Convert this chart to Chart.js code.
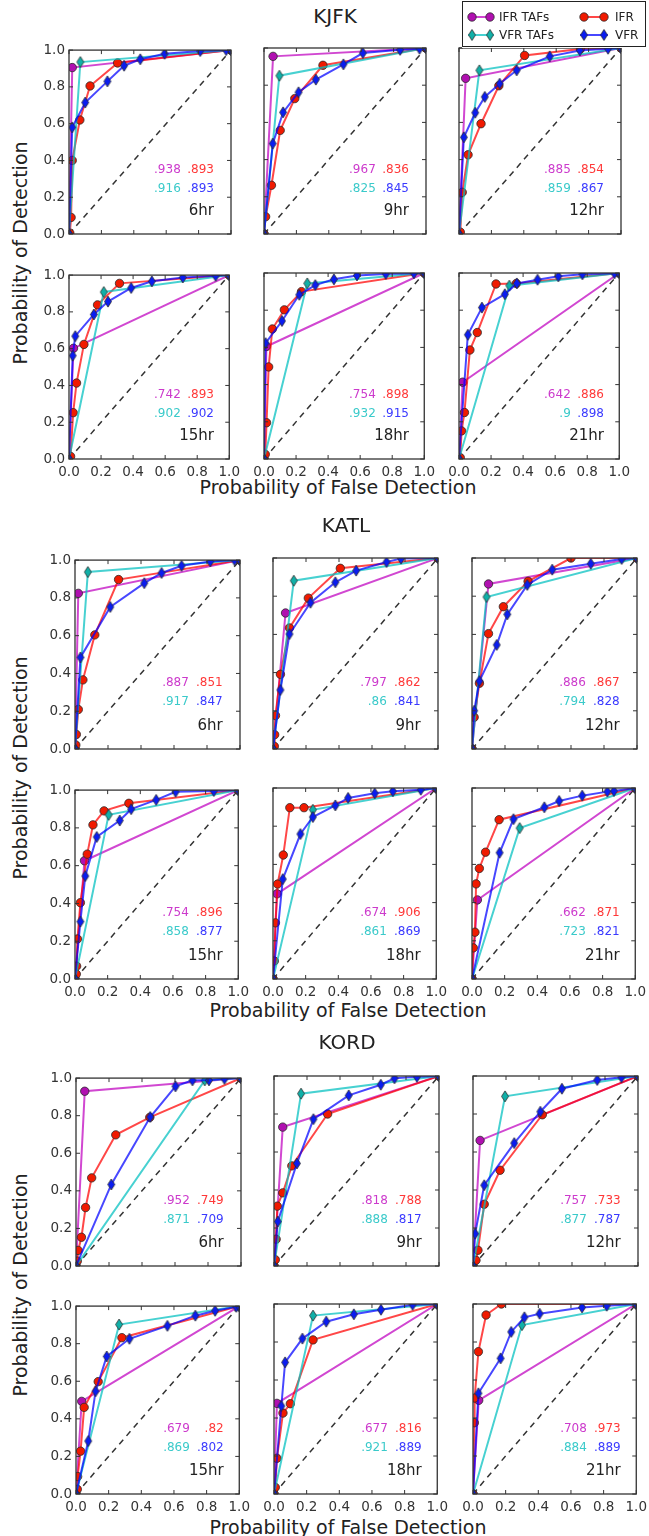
<!DOCTYPE html>
<html>
<head>
<meta charset="utf-8">
<script src="https://cdn.jsdelivr.net/npm/chart.js@4.4.1/dist/chart.umd.min.js"></script>
<style>
  body { margin: 0; background: #fff; }
  #page { position: relative; width: 649px; height: 1536px; overflow: hidden; font-family: "DejaVu Sans", sans-serif; color: #222; }
  #page canvas { position: absolute; }
  .t { position: absolute; white-space: nowrap; line-height: 1; }
  .title { font-size: 20px; transform: translate(-50%, -50%); }
  .xlab { font-size: 19px; transform: translate(-50%, -50%); }
  .ylab { font-size: 19px; transform: translate(-50%, -50%) rotate(-90deg); }
  .auc { font-size: 12px; transform: translate(-100%, -50%); }
  .hr { font-size: 15px; transform: translate(-100%, -50%); color: #222; }
  .leg { font-size: 12px; transform: translateY(-50%); color: #222; }
</style>
</head>
<body>
<div id="page"></div>
<script>
const STATIONS = ['KJFK', 'KATL', 'KORD'];
const HOURS = ['6hr', '9hr', '12hr', '15hr', '18hr', '21hr'];
const TICKS = [0, 0.2, 0.4, 0.6, 0.8, 1.0];
const SERIES = ['IFR TAFs', 'VFR TAFs', 'IFR', 'VFR'];

// ---- KJFK ----
const KJFK_IFR_TAF = [[0.02, 0.905], [0.056, 0.955], [0.041, 0.837], [0.028, 0.602], [0.015, 0.605], [0.023, 0.413]];
const KJFK_VFR_TAF = [[0.07, 0.935], [0.095, 0.851], [0.126, 0.88], [0.217, 0.908], [0.27, 0.944], [0.314, 0.932]];
const KJFK_IFR = [
  [[0, 0], [0.005, 0.005], [0.013, 0.09], [0.02, 0.40], [0.067, 0.62], [0.13, 0.805], [0.30, 0.93], [1, 1]],
  [[0, 0], [0.01, 0.093], [0.046, 0.262], [0.10, 0.557], [0.19, 0.728], [0.364, 0.907], [1, 1]],
  [[0, 0], [0.008, 0.01], [0.02, 0.224], [0.056, 0.426], [0.136, 0.593], [0.246, 0.797], [0.405, 0.96], [0.75, 0.995], [1, 1]],
  [[0, 0], [0.01, 0.014], [0.026, 0.252], [0.047, 0.413], [0.093, 0.623], [0.178, 0.838], [0.315, 0.955], [1, 1]],
  [[0, 0], [0.008, 0.025], [0.016, 0.195], [0.029, 0.495], [0.052, 0.699], [0.127, 0.802], [0.234, 0.90], [1, 1]],
  [[0, 0], [0.008, 0.007], [0.016, 0.151], [0.034, 0.25], [0.068, 0.586], [0.114, 0.68], [0.231, 0.941], [0.358, 0.944], [1, 1]]
];
const KJFK_VFR = [
  [[0, 0], [0.02, 0.58], [0.10, 0.715], [0.237, 0.83], [0.34, 0.915], [0.44, 0.95], [0.59, 0.98], [0.81, 0.995], [0.97, 1], [1, 1]],
  [[0, 0], [0.054, 0.486], [0.118, 0.654], [0.213, 0.762], [0.32, 0.83], [0.49, 0.912], [0.61, 0.973], [0.84, 0.99], [0.96, 0.996], [1, 1]],
  [[0, 0], [0.03, 0.52], [0.10, 0.652], [0.159, 0.737], [0.251, 0.808], [0.356, 0.88], [0.56, 0.955], [0.746, 0.987], [0.92, 0.996], [1, 1]],
  [[0, 0], [0.023, 0.562], [0.039, 0.668], [0.155, 0.786], [0.243, 0.856], [0.388, 0.93], [0.517, 0.966], [0.71, 0.987], [0.915, 0.996], [1, 1]],
  [[0, 0], [0.01, 0.623], [0.112, 0.742], [0.22, 0.883], [0.32, 0.935], [0.436, 0.966], [0.58, 0.987], [0.76, 0.995], [0.935, 0.998], [1, 1]],
  [[0, 0], [0.055, 0.668], [0.143, 0.814], [0.286, 0.886], [0.361, 0.944], [0.49, 0.964], [0.62, 0.982], [0.77, 0.993], [0.97, 0.998], [1, 1]]
];
const KJFK_AUC_IFR_TAF = [0.938, 0.967, 0.885, 0.742, 0.754, 0.642];
const KJFK_AUC_IFR = [0.893, 0.836, 0.854, 0.893, 0.898, 0.886];
const KJFK_AUC_VFR_TAF = [0.916, 0.825, 0.859, 0.902, 0.932, 0.9];
const KJFK_AUC_VFR = [0.893, 0.845, 0.867, 0.902, 0.915, 0.898];

// ---- KATL ----
const KATL_IFR_TAF = [[0.02, 0.824], [0.076, 0.712], [0.10, 0.864], [0.058, 0.626], [0.025, 0.446], [0.033, 0.414]];
const KATL_VFR_TAF = [[0.078, 0.937], [0.126, 0.881], [0.088, 0.796], [0.206, 0.869], [0.244, 0.886], [0.292, 0.79]];
const KATL_IFR = [
  [[0, 0], [0.005, 0.021], [0.008, 0.077], [0.02, 0.209], [0.048, 0.366], [0.12, 0.604], [0.264, 0.897], [1, 1]],
  [[0, 0], [0.008, 0.014], [0.01, 0.075], [0.015, 0.175], [0.045, 0.391], [0.10, 0.634], [0.214, 0.79], [0.408, 0.946], [1, 1]],
  [[0, 0], [0.013, 0.166], [0.045, 0.344], [0.10, 0.604], [0.19, 0.745], [0.34, 0.878], [0.60, 1.0], [1, 1]],
  [[0, 0], [0.008, 0.026], [0.01, 0.068], [0.015, 0.212], [0.033, 0.404], [0.075, 0.661], [0.11, 0.816], [0.178, 0.89], [0.33, 0.93], [1, 1]],
  [[0, 0], [0.008, 0.094], [0.015, 0.294], [0.028, 0.497], [0.063, 0.649], [0.103, 0.897], [0.19, 0.897], [1, 1]],
  [[0, 0], [0.008, 0.163], [0.018, 0.245], [0.025, 0.498], [0.045, 0.579], [0.083, 0.664], [0.166, 0.834], [1, 1]]
];
const KATL_VFR = [
  [[0, 0], [0.033, 0.485], [0.214, 0.752], [0.42, 0.878], [0.525, 0.932], [0.646, 0.97], [0.82, 0.993], [0.967, 1], [1, 1]],
  [[0, 0], [0.045, 0.309], [0.10, 0.602], [0.227, 0.766], [0.378, 0.873], [0.504, 0.934], [0.688, 0.979], [0.776, 0.997], [1, 1]],
  [[0, 0], [0.013, 0.2], [0.045, 0.356], [0.15, 0.545], [0.214, 0.705], [0.335, 0.859], [0.486, 0.939], [0.72, 0.97], [0.907, 0.995], [1, 1]],
  [[0, 0], [0.033, 0.304], [0.063, 0.545], [0.133, 0.752], [0.274, 0.839], [0.344, 0.899], [0.497, 0.948], [0.616, 0.991], [0.85, 0.995], [1, 1]],
  [[0, 0], [0.06, 0.523], [0.168, 0.759], [0.244, 0.848], [0.382, 0.909], [0.46, 0.948], [0.623, 0.972], [0.734, 0.983], [0.905, 0.991], [1, 1]],
  [[0, 0], [0.169, 0.661], [0.254, 0.837], [0.443, 0.899], [0.534, 0.932], [0.675, 0.96], [0.829, 0.981], [0.869, 0.984], [1, 1]]
];
const KATL_AUC_IFR_TAF = [0.887, 0.797, 0.886, 0.754, 0.674, 0.662];
const KATL_AUC_IFR = [0.851, 0.862, 0.867, 0.896, 0.906, 0.871];
const KATL_AUC_VFR_TAF = [0.917, 0.86, 0.794, 0.858, 0.861, 0.723];
const KATL_AUC_VFR = [0.847, 0.841, 0.828, 0.877, 0.869, 0.821];

// ---- KORD ----
const KORD_IFR_TAF = [[0.053, 0.93], [0.053, 0.731], [0.043, 0.661], [0.035, 0.493], [0.018, 0.477], [0.035, 0.493]];
const KORD_VFR_TAF = [[0.78, 0.988], [0.164, 0.907], [0.194, 0.893], [0.264, 0.902], [0.239, 0.939], [0.30, 0.889]];
const KORD_IFR = [
  [[0, 0], [0.008, 0.026], [0.013, 0.083], [0.033, 0.153], [0.058, 0.311], [0.095, 0.469], [0.241, 0.698], [0.447, 0.791], [1, 1]],
  [[0, 0], [0.008, 0.033], [0.013, 0.141], [0.02, 0.315], [0.053, 0.385], [0.108, 0.527], [0.325, 0.80], [1, 1]],
  [[0, 0], [0.018, 0.03], [0.03, 0.083], [0.068, 0.325], [0.164, 0.504], [0.42, 0.796], [1, 1]],
  [[0, 0], [0.008, 0.025], [0.01, 0.093], [0.028, 0.228], [0.05, 0.461], [0.136, 0.598], [0.281, 0.832], [1, 1]],
  [[0, 0], [0.008, 0.035], [0.018, 0.188], [0.055, 0.426], [0.10, 0.475], [0.239, 0.811], [1, 1]],
  [[0, 0], [0.008, 0.375], [0.01, 0.505], [0.033, 0.749], [0.08, 0.942], [0.174, 1.0], [1, 1]]
];
const KORD_VFR = [
  [[0, 0], [0.214, 0.434], [0.45, 0.793], [0.603, 0.956], [0.706, 0.988], [0.806, 0.988], [0.9, 0.996], [1, 1]],
  [[0, 0], [0.023, 0.234], [0.139, 0.54], [0.239, 0.773], [0.453, 0.898], [0.647, 0.954], [0.73, 0.988], [0.866, 0.996], [1, 1]],
  [[0, 0], [0.013, 0.17], [0.068, 0.425], [0.25, 0.647], [0.408, 0.812], [0.539, 0.933], [0.753, 0.979], [0.9, 0.993], [1, 1]],
  [[0, 0], [0.075, 0.282], [0.12, 0.547], [0.188, 0.732], [0.327, 0.826], [0.56, 0.895], [0.731, 0.949], [0.852, 0.975], [0.982, 0.996], [1, 1]],
  [[0, 0], [0.045, 0.463], [0.068, 0.693], [0.174, 0.818], [0.32, 0.907], [0.489, 0.946], [0.655, 0.97], [0.849, 0.996], [1, 1]],
  [[0, 0], [0.033, 0.53], [0.169, 0.714], [0.234, 0.853], [0.315, 0.93], [0.408, 0.949], [0.668, 0.982], [0.819, 0.991], [1, 1]]
];
const KORD_AUC_IFR_TAF = [0.952, 0.818, 0.757, 0.679, 0.677, 0.708];
const KORD_AUC_IFR = [0.749, 0.788, 0.733, 0.82, 0.816, 0.973];
const KORD_AUC_VFR_TAF = [0.871, 0.888, 0.877, 0.869, 0.921, 0.884];
const KORD_AUC_VFR = [0.709, 0.817, 0.787, 0.802, 0.889, 0.889];

const DATA = {
  KJFK: { ifrTaf: KJFK_IFR_TAF, vfrTaf: KJFK_VFR_TAF, ifr: KJFK_IFR, vfr: KJFK_VFR,
          auc: [KJFK_AUC_IFR_TAF, KJFK_AUC_IFR, KJFK_AUC_VFR_TAF, KJFK_AUC_VFR] },
  KATL: { ifrTaf: KATL_IFR_TAF, vfrTaf: KATL_VFR_TAF, ifr: KATL_IFR, vfr: KATL_VFR,
          auc: [KATL_AUC_IFR_TAF, KATL_AUC_IFR, KATL_AUC_VFR_TAF, KATL_AUC_VFR] },
  KORD: { ifrTaf: KORD_IFR_TAF, vfrTaf: KORD_VFR_TAF, ifr: KORD_IFR, vfr: KORD_VFR,
          auc: [KORD_AUC_IFR_TAF, KORD_AUC_IFR, KORD_AUC_VFR_TAF, KORD_AUC_VFR] }
};

// page layout (plot-area boxes in px)
const LAYOUT = {
  KJFK: { lefts: [69, 264, 459], w: 162, tops: [48, 273], h: 186, title: [335, 16], xlab: [338, 487], ylab: [20, 253] },
  KATL: { lefts: [75, 273, 472], w: 165, tops: [558, 788], h: 191, title: [346, 525], xlab: [348, 1010], ylab: [20, 768] },
  KORD: { lefts: [76, 274, 473], w: 165, tops: [1076, 1304], h: 190, title: [347, 1042], xlab: [348, 1527], ylab: [20, 1285] }
};
const PL = 40, PR = 14, PT = 10, PB = 24;

const LINE = { ifrTaf: 'rgba(191,0,191,0.72)', vfrTaf: 'rgba(0,191,191,0.72)', ifr: 'rgba(255,0,0,0.72)', vfr: 'rgba(0,0,255,0.72)' };
const FILL = { ifrTaf: '#b010b0', vfrTaf: '#10b0a8', ifr: '#f01a00', vfr: '#0a1cf0' };
const TEXT = ['#cc3acc', '#ff3838', '#3acaca', '#3a3aff'];
const EDGE = '#2a2a2a';

function diamond(fill) {
  const c = document.createElement('canvas');
  c.width = 10; c.height = 13;
  const g = c.getContext('2d');
  g.beginPath();
  g.moveTo(5, 1); g.lineTo(8.5, 6.5); g.lineTo(5, 12); g.lineTo(1.5, 6.5); g.closePath();
  g.fillStyle = fill; g.fill();
  g.lineWidth = 0.8; g.strokeStyle = EDGE; g.stroke();
  return c;
}
const DIA_VFR = diamond(FILL.vfr);
const DIA_VFRTAF = diamond(FILL.vfrTaf);

const framePlugin = {
  id: 'frame',
  afterDraw(chart) {
    const { ctx, chartArea: a, scales } = chart;
    ctx.save();
    ctx.strokeStyle = '#333';
    ctx.lineWidth = 1;
    ctx.beginPath();
    TICKS.forEach(v => {
      const px = scales.x.getPixelForValue(v), py = scales.y.getPixelForValue(v);
      ctx.moveTo(px, a.bottom); ctx.lineTo(px, a.bottom - 4);
      ctx.moveTo(px, a.top); ctx.lineTo(px, a.top + 4);
      ctx.moveTo(a.left, py); ctx.lineTo(a.left + 4, py);
      ctx.moveTo(a.right, py); ctx.lineTo(a.right - 4, py);
    });
    ctx.stroke();
    ctx.lineWidth = 1.3;
    ctx.strokeRect(a.left, a.top, a.right - a.left, a.bottom - a.top);
    ctx.restore();
  }
};

const page = document.getElementById('page');
function addText(cls, x, y, txt, color) {
  const d = document.createElement('div');
  d.className = 't ' + cls;
  d.style.left = x + 'px';
  d.style.top = y + 'px';
  if (color) d.style.color = color;
  d.textContent = txt;
  page.appendChild(d);
}
const fmt = v => String(v).replace(/^0/, '');
const pts = arr => arr.map(p => ({ x: p[0], y: p[1] }));

function scaleOpts(show, isX) {
  return {
    type: 'linear', min: 0, max: 1,
    afterBuildTicks: s => { s.ticks = TICKS.map(v => ({ value: v })); },
    afterFit: s => { if (isX) s.height = PB; else s.width = PL; },
    grid: { display: false, drawTicks: false },
    border: { display: false },
    ticks: {
      display: show, padding: isX ? 5 : 4, autoSkip: false, maxRotation: 0,
      color: '#333', font: { family: 'DejaVu Sans', size: 13.5 },
      callback: v => v.toFixed(1)
    }
  };
}

function makePanel(st, k) {
  const L = LAYOUT[st], D = DATA[st];
  const r = Math.floor(k / 3), c = k % 3;
  const left = L.lefts[c], top = L.tops[r];
  const cv = document.createElement('canvas');
  cv.width = L.w + PL + PR;
  cv.height = L.h + PT + PB;
  cv.style.left = (left - PL) + 'px';
  cv.style.top = (top - PT) + 'px';
  page.appendChild(cv);

  const common = { showLine: true, borderWidth: 2, pointBorderColor: EDGE, pointBorderWidth: 0.8, clip: 0 };
  new Chart(cv, {
    type: 'scatter',
    data: {
      datasets: [
        Object.assign({ label: 'VFR', data: pts(D.vfr[k]), borderColor: LINE.vfr, pointStyle: DIA_VFR }, common),
        Object.assign({ label: 'VFR TAFs', data: pts([[0, 0], D.vfrTaf[k], [1, 1]]), borderColor: LINE.vfrTaf, pointStyle: DIA_VFRTAF }, common),
        Object.assign({ label: 'IFR', data: pts(D.ifr[k]), borderColor: LINE.ifr, pointStyle: 'circle', pointRadius: 4.2, pointBackgroundColor: FILL.ifr }, common),
        Object.assign({ label: 'IFR TAFs', data: pts([[0, 0], D.ifrTaf[k], [1, 1]]), borderColor: LINE.ifrTaf, pointStyle: 'circle', pointRadius: 4.2, pointBackgroundColor: FILL.ifrTaf }, common),
        { label: 'chance', data: pts([[0, 0], [1, 1]]), showLine: true, borderColor: '#333', borderWidth: 1.5, borderDash: [6, 5], pointRadius: 0, clip: 0 }
      ]
    },
    options: {
      responsive: false, animation: false, events: [],
      layout: { padding: { top: PT, right: PR, left: 0, bottom: 0 }, autoPadding: false },
      plugins: { legend: { display: false }, tooltip: { enabled: false } },
      elements: { line: { tension: 0 } },
      scales: { x: scaleOpts(r === 1, true), y: scaleOpts(c === 0, false) }
    },
    plugins: [framePlugin]
  });

  // AUC annotations
  const xa = left + 0.69 * L.w, xb = left + 0.895 * L.w;
  const y1 = top + (1 - 0.35) * L.h, y2 = top + (1 - 0.25) * L.h, y3 = top + (1 - 0.127) * L.h;
  addText('auc', xa, y1, fmt(D.auc[0][k]), TEXT[0]);
  addText('auc', xb, y1, fmt(D.auc[1][k]), TEXT[1]);
  addText('auc', xa, y2, fmt(D.auc[2][k]), TEXT[2]);
  addText('auc', xb, y2, fmt(D.auc[3][k]), TEXT[3]);
  addText('hr', xb, y3, HOURS[k]);
}

STATIONS.forEach(st => {
  const L = LAYOUT[st];
  addText('title', L.title[0], L.title[1], st);
  addText('xlab', L.xlab[0], L.xlab[1], 'Probability of False Detection');
  addText('ylab', L.ylab[0], L.ylab[1], 'Probability of Detection');
  HOURS.forEach((h, k) => makePanel(st, k));
});

// legend box (top right)
(function legend() {
  const lx = 462, ly = 1;
  const cv = document.createElement('canvas');
  cv.width = 185; cv.height = 47;
  cv.style.left = lx + 'px'; cv.style.top = ly + 'px';
  page.appendChild(cv);
  const g = cv.getContext('2d');
  g.fillStyle = '#fff'; g.fillRect(0, 0, 185, 47);
  g.strokeStyle = '#222'; g.lineWidth = 1;
  g.strokeRect(0.5, 0.5, 183, 45);
  const items = [
    { key: 'ifrTaf', x0: 6, x1: 32, y: 16, m: 'circle' },
    { key: 'vfrTaf', x0: 6, x1: 32, y: 34, m: DIA_VFRTAF },
    { key: 'ifr', x0: 118, x1: 146, y: 16, m: 'circle' },
    { key: 'vfr', x0: 118, x1: 146, y: 34, m: DIA_VFR }
  ];
  items.forEach(it => {
    g.strokeStyle = LINE[it.key]; g.lineWidth = 2;
    g.beginPath(); g.moveTo(it.x0, it.y); g.lineTo(it.x1, it.y); g.stroke();
    [it.x0 + 4, it.x1 - 4].forEach(mx => {
      if (it.m === 'circle') {
        g.beginPath(); g.arc(mx, it.y, 4.2, 0, Math.PI * 2);
        g.fillStyle = FILL[it.key]; g.fill();
        g.lineWidth = 0.8; g.strokeStyle = EDGE; g.stroke();
      } else {
        g.drawImage(it.m, mx - 5, it.y - 6.5);
      }
    });
  });
  addText('leg', 499, 17, SERIES[0]);
  addText('leg', 499, 35, SERIES[1]);
  addText('leg', 615, 17, SERIES[2]);
  addText('leg', 615, 35, SERIES[3]);
})();
</script>
</body>
</html>
